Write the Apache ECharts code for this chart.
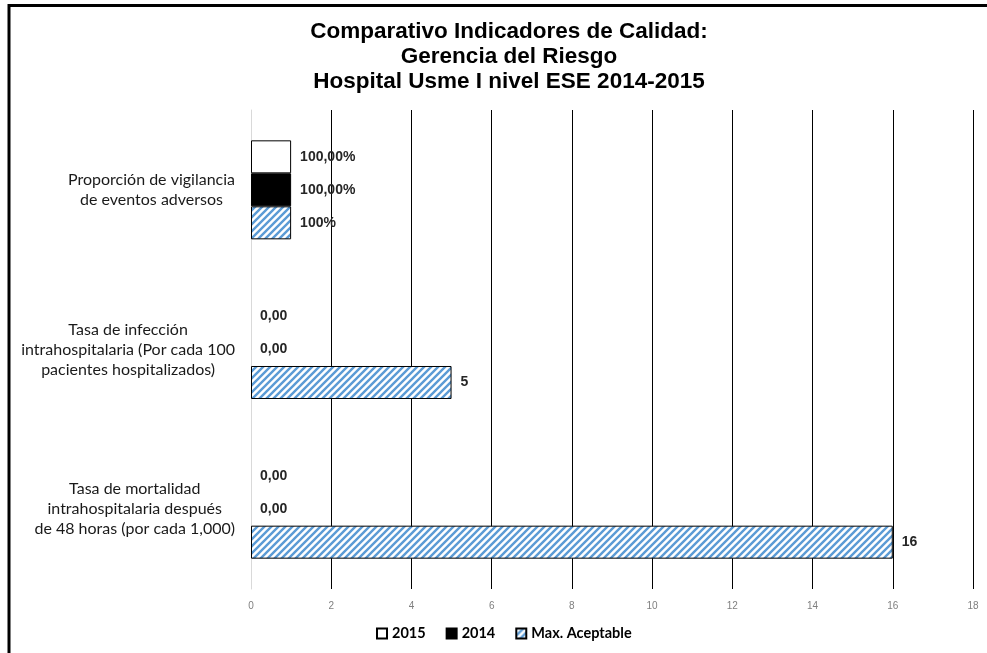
<!DOCTYPE html>
<html>
<head>
<meta charset="utf-8">
<script src="https://cdn.jsdelivr.net/npm/echarts@6/dist/echarts.min.js"></script>
<style>
  html, body { margin: 0; padding: 0; background: #fff; }
  #main { width: 987px; height: 653px; }
</style>
</head>
<body>
<div id="main"></div>
<script>
var categories = [
  'Proporción de vigilancia\nde eventos adversos',
  'Tasa de infección\nintrahospitalaria (Por cada 100\npacientes hospitalizados)',
  'Tasa de mortalidad\nintrahospitalaria después\nde 48 horas (por cada 1,000)'
];
var v2015 = [1, 0, 0];
var v2014 = [1, 0, 0];
var vMax = [1, 5, 16];
var lbl2015 = ['100,00%', '0,00', '0,00'];
var lbl2014 = ['100,00%', '0,00', '0,00'];
var lblMax = ['100%', '5', '16'];
var xTicks = [0, 2, 4, 6, 8, 10, 12, 14, 16, 18];

// rayado azul de Max. Aceptable
function hatch() {
  var s = 7;
  var c = document.createElement('canvas');
  c.width = s; c.height = s;
  var ctx = c.getContext('2d');
  ctx.fillStyle = '#fff';
  ctx.fillRect(0, 0, s, s);
  ctx.strokeStyle = '#5b9bd5';
  ctx.lineWidth = 2.4;
  ctx.beginPath();
  ctx.moveTo(0, s); ctx.lineTo(s, 0);
  ctx.moveTo(-s / 2, s / 2); ctx.lineTo(s / 2, -s / 2);
  ctx.moveTo(s / 2, s * 1.5); ctx.lineTo(s * 1.5, s / 2);
  ctx.stroke();
  return c;
}

function items(vals) {
  return vals.map(function (v) {
    return v === 0 ? { value: v, itemStyle: { borderWidth: 0 } } : v;
  });
}

var myChart = echarts.init(document.getElementById('main'));
var valueLabel = {
  show: true,
  position: 'right',
  distance: 9,
  fontFamily: 'Liberation Sans',
  fontWeight: 'bold',
  fontSize: 14,
  color: '#262626'
};

option = {
  animation: false,
  backgroundColor: '#fff',
  title: {
    text: 'Comparativo Indicadores de Calidad:\nGerencia del Riesgo\nHospital Usme I nivel ESE 2014-2015',
    left: 504,
    textAlign: 'center',
    top: 14,
    textStyle: {
      fontFamily: 'Liberation Sans',
      fontWeight: 'bold',
      fontSize: 22.5,
      lineHeight: 25,
      color: '#000'
    }
  },
  graphic: [{
    type: 'rect',
    shape: { x: 9, y: 5.5, width: 2000, height: 2000 },
    style: { fill: 'none', stroke: '#000', lineWidth: 3 },
    silent: true
  }],
  legend: {
    bottom: 7,
    left: 371,
    itemWidth: 10,
    itemHeight: 10,
    itemGap: 20,
    icon: 'rect',
    data: ['2015', '2014', 'Max. Aceptable'],
    textStyle: {
      fontFamily: 'Lato',
      fontWeight: 'bold',
      fontSize: 14.5,
      color: '#000'
    }
  },
  grid: {
    left: 251,
    right: 14,
    top: 110,
    bottom: 64
  },
  xAxis: {
    type: 'value',
    min: xTicks[0],
    max: xTicks[xTicks.length - 1],
    interval: 2,
    axisLine: { show: false },
    axisTick: { show: false },
    axisLabel: {
      margin: 12,
      fontFamily: 'Liberation Sans',
      fontSize: 10,
      color: '#7f7f7f'
    },
    splitLine: {
      show: true,
      showMinLine: false,
      lineStyle: { color: '#000', width: 1 }
    }
  },
  yAxis: {
    type: 'category',
    inverse: true,
    data: categories,
    axisLine: { show: true, lineStyle: { color: '#d9d9d9', width: 1 } },
    axisTick: { show: false },
    axisLabel: {
      margin: 16,
      formatter: function (v) {
        return v.split('\n').map(function (l) { return '{c|' + l + '}'; }).join('\n');
      },
      rich: {
        c: {
          align: 'center',
          fontFamily: 'Lato',
          fontSize: 16,
          lineHeight: 20,
          color: '#1a1a1a'
        }
      }
    }
  },
  series: [
    {
      name: '2015',
      type: 'bar',
      data: items(v2015),
      barGap: 0,
      barCategoryGap: '38%',
      itemStyle: { color: '#fff', borderColor: '#000', borderWidth: 1 },
      label: Object.assign({}, valueLabel, {
        formatter: function (p) { return lbl2015[p.dataIndex]; }
      })
    },
    {
      name: '2014',
      type: 'bar',
      data: items(v2014),
      barGap: 0,
      barCategoryGap: '38%',
      itemStyle: { color: '#000', borderColor: '#000', borderWidth: 1 },
      label: Object.assign({}, valueLabel, {
        formatter: function (p) { return lbl2014[p.dataIndex]; }
      })
    },
    {
      name: 'Max. Aceptable',
      type: 'bar',
      data: items(vMax),
      barGap: 0,
      barCategoryGap: '38%',
      itemStyle: {
        color: { image: hatch(), repeat: 'repeat' },
        borderColor: '#000',
        borderWidth: 1
      },
      label: Object.assign({}, valueLabel, {
        formatter: function (p) { return lblMax[p.dataIndex]; }
      })
    }
  ]
};
option && myChart.setOption(option);
</script>
</body>
</html>
